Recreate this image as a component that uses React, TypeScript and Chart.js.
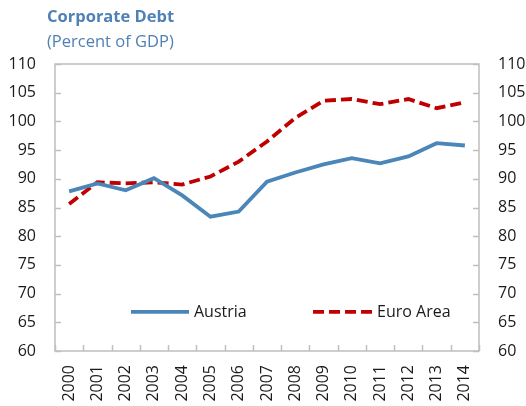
import React, { useEffect, useRef } from "react";
import { Chart, registerables } from "chart.js";

Chart.register(...registerables);

const years = ["2000", "2001", "2002", "2003", "2004", "2005", "2006", "2007", "2008", "2009", "2010", "2011", "2012", "2013", "2014"];
const austria = [87.8, 89.2, 88.0, 90.1, 87.1, 83.4, 84.3, 89.5, 91.1, 92.5, 93.6, 92.7, 93.9, 96.2, 95.8];
const euroArea = [85.6, 89.4, 89.2, 89.4, 89.0, 90.4, 93.0, 96.5, 100.6, 103.6, 103.9, 103.0, 103.9, 102.3, 103.3];
const titleText = "Corporate Debt";
const subtitleText = "(Percent of GDP)";
const yMin = 60;
const yMax = 110;
const yStep = 5;

const FONT = "'Open Sans', 'Noto Sans', sans-serif";
const TITLE_COLOR = "#4f81b4";
const FRAME_COLOR = "#bfbfbf";
const TEXT_COLOR = "#1a1a1a";

const decorPlugin = {
  id: "decor",
  beforeDatasetsDraw(chart: any) {
    const { ctx, chartArea } = chart;
    const { left, right, top, bottom } = chartArea;
    ctx.save();
    ctx.strokeStyle = FRAME_COLOR;
    ctx.lineWidth = 1.5;
    ctx.strokeRect(left, top, right - left, bottom - top);
    const y = chart.scales.y;
    ctx.beginPath();
    for (let v = yMin; v <= yMax; v += yStep) {
      const py = Math.round(y.getPixelForValue(v)) + 0.5;
      ctx.moveTo(left, py);
      ctx.lineTo(left + 6, py);
      ctx.moveTo(right, py);
      ctx.lineTo(right - 6, py);
    }
    const x = chart.scales.x;
    for (let i = 0; i <= years.length; i++) {
      const px = Math.round(x.getPixelForValue(i - 0.5)) + 0.5;
      ctx.moveTo(px, bottom);
      ctx.lineTo(px, bottom - 6);
    }
    ctx.stroke();
    ctx.restore();
  },
  afterDraw(chart: any) {
    const { ctx } = chart;
    ctx.save();
    ctx.textBaseline = "alphabetic";
    ctx.textAlign = "left";
    ctx.fillStyle = TITLE_COLOR;
    ctx.font = `bold 16.5px ${FONT}`;
    ctx.fillText(titleText, 47, 22);
    ctx.font = `16.5px ${FONT}`;
    ctx.fillText(subtitleText, 47, 47);
    const ly = chart.scales.y.getPixelForValue(66.8);
    const items = [
      { ds: chart.data.datasets[0], x0: 131, x1: 189 },
      { ds: chart.data.datasets[1], x0: 313, x1: 372 },
    ];
    ctx.font = `16px ${FONT}`;
    ctx.textBaseline = "middle";
    for (const it of items) {
      ctx.strokeStyle = it.ds.borderColor;
      ctx.lineWidth = it.ds.borderWidth;
      ctx.lineCap = "butt";
      ctx.setLineDash(it.ds.borderDash || []);
      ctx.beginPath();
      ctx.moveTo(it.x0, ly);
      ctx.lineTo(it.x1, ly);
      ctx.stroke();
      ctx.setLineDash([]);
      ctx.fillStyle = TEXT_COLOR;
      ctx.fillText(it.ds.label, it.x1 + 5, ly);
    }
    ctx.restore();
  },
};

export default function App() {
  const ref = useRef<HTMLCanvasElement>(null);
  useEffect(() => {
    if (!ref.current) return;
    const tickFont = { family: FONT, size: 16 };
    const chart = new Chart(ref.current, {
      type: "line",
      data: {
        labels: years,
        datasets: [
          {
            label: "Austria",
            data: austria,
            borderColor: "#4a86b8",
            borderWidth: 3.8,
            pointRadius: 0,
            tension: 0,
            yAxisID: "y",
          },
          {
            label: "Euro Area",
            data: euroArea,
            borderColor: "#c00000",
            borderWidth: 3.8,
            borderDash: [11, 5],
            pointRadius: 0,
            tension: 0,
            yAxisID: "y",
          },
        ],
      },
      options: {
        responsive: false,
        animation: false,
        layout: { padding: { top: 64, left: 0, right: 0, bottom: 0 } },
        plugins: { legend: { display: false }, tooltip: { enabled: false }, title: { display: false } },
        scales: {
          x: {
            type: "category",
            offset: true,
            grid: { display: false, drawTicks: false },
            border: { display: false },
            ticks: { font: tickFont, color: TEXT_COLOR, maxRotation: 90, minRotation: 90, padding: 14, autoSkip: false },
            afterFit: (s: any) => { s.height = 55; },
          },
          y: {
            position: "left",
            min: yMin,
            max: yMax,
            grid: { display: false, drawTicks: false },
            border: { display: false },
            ticks: { stepSize: yStep, font: tickFont, color: TEXT_COLOR, padding: 19 },
            afterFit: (s: any) => { s.width = 55; },
          },
          y2: {
            position: "right",
            min: yMin,
            max: yMax,
            grid: { display: false, drawTicks: false },
            border: { display: false },
            ticks: { stepSize: yStep, font: tickFont, color: TEXT_COLOR, padding: 19 },
            afterFit: (s: any) => { s.width = 47; },
          },
        },
      },
      plugins: [decorPlugin],
    });
    return () => chart.destroy();
  }, []);
  return (
    <div style={{ position: "fixed", left: 0, top: 0, width: 526, height: 406, background: "#fff" }}>
      <canvas ref={ref} width={526} height={406} />
    </div>
  );
}
